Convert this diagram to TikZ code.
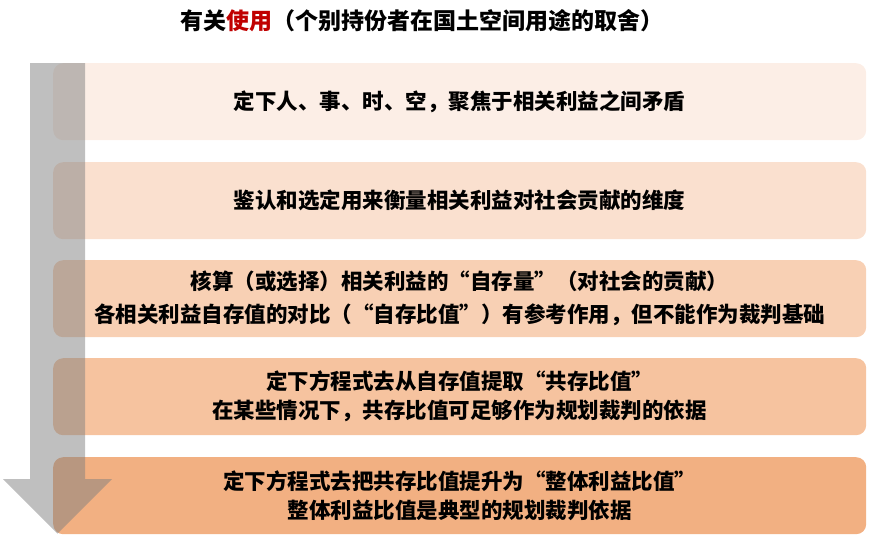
\documentclass[tikz,border=0pt]{standalone}
\usepackage{fontspec}
\newfontfamily\cjk{Noto Sans CJK SC}
\definecolor{cA}{HTML}{FCEEE6}
\definecolor{cB}{HTML}{FAE0CF}
\definecolor{cC}{HTML}{F8D0B4}
\definecolor{cD}{HTML}{F6C39F}
\definecolor{cE}{HTML}{F2B082}
\definecolor{titlered}{HTML}{C00000}
\definecolor{arrowgray}{HTML}{808080}
\begin{document}
\begin{tikzpicture}[x=1pt,y=-1pt]
\tikzset{
  stage/.style={rounded corners=10pt, minimum width=813pt, minimum height=77pt,
    inner sep=0pt, align=center, anchor=north west,
    font=\cjk\bfseries\fontsize{21.5}{29}\selectfont},
  titlefont/.style={font=\cjk\bfseries\fontsize{23}{23}\selectfont}
}
\useasboundingbox (0,0) rectangle (873,541);
\node[titlefont] (title) at (422,21) {有关\textcolor{titlered}{使用}（个别持份者在国土空间用途的取舍）};
\node[stage, fill=cA] (b1) at (53,63) {定下人、事、时、空，聚焦于相关利益之间矛盾};
\node[stage, fill=cB] (b2) at (53,162) {鉴认和选定用来衡量相关利益对社会贡献的维度};
\node[stage, fill=cC, font=\cjk\bfseries\fontsize{21.5}{33}\selectfont] (b3) at (53,260) {核算（或选择）相关利益的“自存量”（对社会的贡献）\\各相关利益自存值的对比（“自存比值”）有参考作用，但不能作为裁判基础};
\node[stage, fill=cD] (b4) at (53,358) {定下方程式去从自存值提取“共存比值”\\在某些情况下，共存比值可足够作为规划裁判的依据};
\node[stage, fill=cE] (b5) at (53,457) {定下方程式去把共存比值提升为“整体利益比值”\\整体利益比值是典型的规划裁判依据};
\fill[arrowgray, opacity=0.5] (30,63) -- (85,63) -- (85,479) -- (112,479) -- (57.5,533.5) -- (3,479) -- (30,479) -- cycle;
\end{tikzpicture}
\end{document}
